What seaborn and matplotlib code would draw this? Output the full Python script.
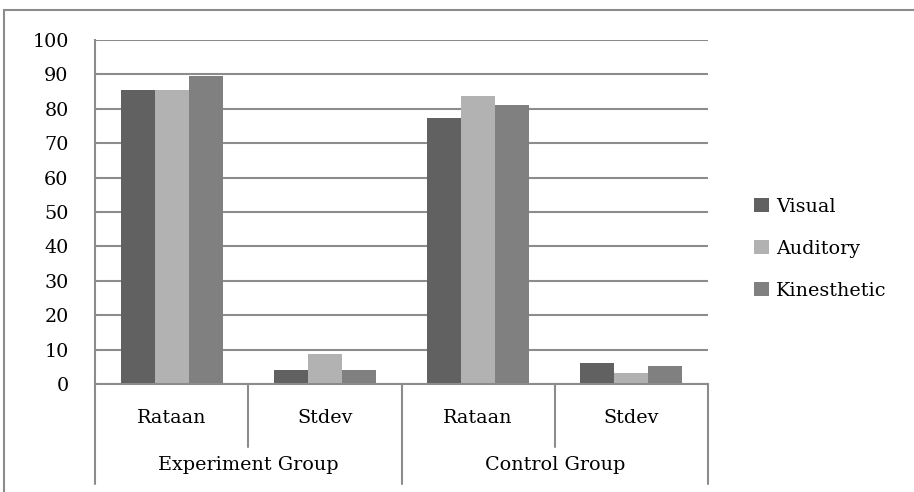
import pandas as pd
import numpy as np
import matplotlib
matplotlib.use("Agg")
import matplotlib.pyplot as plt
import seaborn as sns
from matplotlib.patches import Patch, Rectangle

# data
groups = ["Experiment Group", "Control Group"]
stats = ["Rataan", "Stdev"]
series = ["Visual", "Auditory", "Kinesthetic"]
visual = [85.5, 4.1, 77.3, 6.2]
auditory = [85.4, 8.6, 83.8, 3.2]
kinesthetic = [89.6, 4.1, 81.2, 5.3]
colors = ["#616161", "#b2b2b2", "#808080"]

keys = [g + "|" + s for g in groups for s in stats]
rows = []
for name, vals in zip(series, [visual, auditory, kinesthetic]):
    for k, v in zip(keys, vals):
        rows.append({"cat": k, "series": name, "value": v})
df = pd.DataFrame(rows)

sns.set_style("white")
plt.rcParams["font.family"] = ["DejaVu Serif", "Liberation Serif"]
plt.rcParams["text.color"] = "black"
plt.rcParams["ytick.labelcolor"] = "black"
grid_col = "#8c8c8c"
fs = 13.8

fig = plt.figure(figsize=(9.14, 4.92), dpi=100)
ax = fig.add_axes([95 / 914, 108 / 492, 613 / 914, 344 / 492])

sns.barplot(data=df, x="cat", y="value", hue="series", order=keys,
            hue_order=series, palette=colors, width=0.667, gap=0,
            saturation=1, ax=ax, legend=False, errorbar=None, linewidth=0)

ax.set_ylim(0, 100)
ax.set_yticks(np.arange(0, 101, 10))
ax.set_xlim(-0.5, 3.5)
ax.set_xticks([])
ax.set_xlabel("")
ax.set_ylabel("")
ax.yaxis.grid(True, color=grid_col, linewidth=1.5)
ax.set_axisbelow(True)
for side in ["top", "right"]:
    ax.spines[side].set_visible(False)
for side in ["left", "bottom"]:
    ax.spines[side].set_color(grid_col)
    ax.spines[side].set_linewidth(1.5)
ax.tick_params(axis="y", length=7, width=1.5, color=grid_col, direction="out",
               labelsize=fs, pad=12, labelcolor="black")

# multi-level category axis
tr = ax.get_xaxis_transform()
inner_y = -(447 - 384) / 344
outer_y = -(484 - 384) / 344
for xpos in [0.5, 2.5]:
    ax.plot([xpos, xpos], [0, inner_y], color=grid_col, lw=1.5,
            transform=tr, clip_on=False)
for xpos in [-0.5, 1.5, 3.5]:
    ax.plot([xpos, xpos], [0, outer_y], color=grid_col, lw=1.5,
            transform=tr, clip_on=False)
for i, k in enumerate(keys):
    ax.text(i, -(418 - 384) / 344, k.split("|")[1], transform=tr,
            ha="center", va="center", fontsize=fs)
for j, g in enumerate(groups):
    ax.text(2 * j + 0.5, -(465 - 384) / 344, g, transform=tr,
            ha="center", va="center", fontsize=fs)

# legend
handles = [Patch(facecolor=c, edgecolor="none") for c in colors]
fig.legend(handles, series, loc="center left",
           bbox_to_anchor=(737 / 914, 1 - 249 / 492), frameon=False,
           fontsize=fs, handlelength=0.75, handleheight=0.75,
           handletextpad=0.4, labelspacing=1.25)

# chart border
fig.patches.append(Rectangle((4 / 914, -0.1), 1.2, 1 - 10 / 492 + 0.1,
                             transform=fig.transFigure, fill=False,
                             edgecolor="#8c8c8c", linewidth=1.5))

fig.savefig("out.png", dpi=100)
